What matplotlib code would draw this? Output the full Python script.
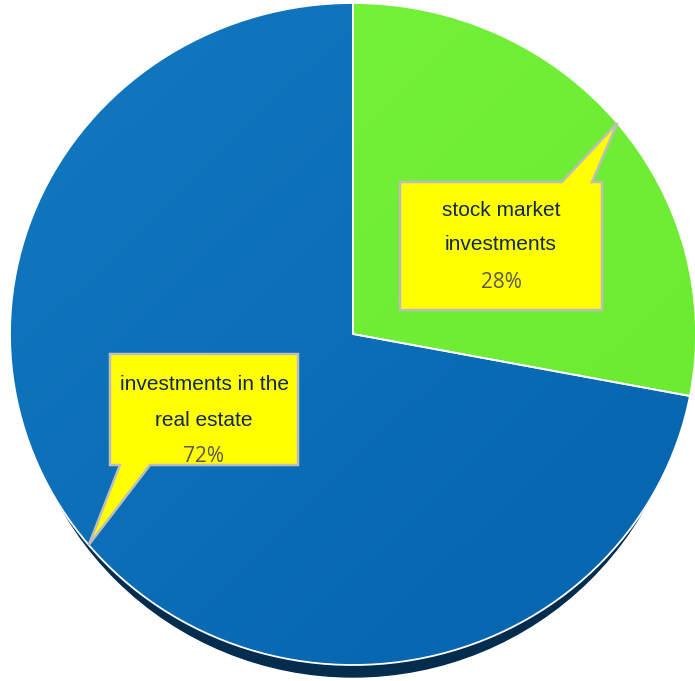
import numpy as np
import matplotlib.pyplot as plt
from matplotlib.patches import Ellipse, Polygon
from matplotlib.colors import LinearSegmentedColormap

# Portfolio split
categories = ['stock market\ninvestments', 'investments in the\nreal estate']
shares = [28, 72]
pct_labels = ['28%', '72%']

W, H = 695, 681
# pie centre and radii in pixels (the disc is slightly squashed vertically)
cx, cy = 353, 334
rx, ry = 343, 331

fig = plt.figure(figsize=(W / 100, H / 100), dpi=100)
ax = fig.add_axes([0, 0, 1, 1])

wedges, _ = ax.pie(shares, startangle=90, counterclock=False,
                   colors=['#72f036', '#0b6fb8'],
                   wedgeprops=dict(edgecolor='white', linewidth=1.3))

# dark rim under the disc
ax.add_patch(Ellipse((0, -12 / ry), 2 * 0.975, 2.0, color='#032c4e', zorder=0))

# soft diagonal shading inside each slice
gx, gy = np.meshgrid(np.linspace(-1, 1, 200), np.linspace(-1, 1, 200))
grad = (gx - gy + 2) / 4
shades = [('#77f33b', '#69e92f'), ('#1379c0', '#0463ad')]
for w, (c0, c1) in zip(wedges, shades):
    cmap = LinearSegmentedColormap.from_list('shade', [c0, c1])
    im = ax.imshow(grad, extent=(-1.02, 1.02, -1.02, 1.02), origin='lower',
                   cmap=cmap, interpolation='bilinear', zorder=2)
    im.set_clip_path(w)
    w.set_facecolor('none')
    w.set_zorder(3)

ax.set_aspect('auto')
ax.set_xlim(-cx / rx, (W - cx) / rx)
ax.set_ylim(-(H - cy) / ry, cy / ry)
ax.axis('off')

# overlay in pixel coordinates for the callouts
ov = fig.add_axes([0, 0, 1, 1])
ov.set_xlim(0, W)
ov.set_ylim(H, 0)
ov.axis('off')
ov.patch.set_alpha(0)


def tip_of(w):
    mid = np.deg2rad((w.theta1 + w.theta2) / 2)
    return cx + rx * np.cos(mid), cy - ry * np.sin(mid)


# box: left, top, right, bottom; pointer leaves from the top or bottom edge
boxes = [
    dict(box=(400, 182, 602, 310), side='top', base=(562, 592),
         lines_y=(211, 245, 282)),
    dict(box=(110, 354, 298, 465), side='bottom', base=(150, 120),
         lines_y=(385, 420, 456)),
]

for w, cat, pct, b in zip(wedges, categories, pct_labels, boxes):
    l, t, r, btm = b['box']
    b0, b1 = b['base']
    tx, ty = tip_of(w)
    if b['side'] == 'top':
        pts = [(l, t), (b0, t), (tx, ty), (b1, t), (r, t), (r, btm), (l, btm)]
    else:
        pts = [(l, t), (r, t), (r, btm), (b0, btm), (tx, ty), (b1, btm), (l, btm)]
    ov.add_patch(Polygon(pts, closed=True, facecolor='#ffff00',
                         edgecolor='#bdbdbd', linewidth=1.8, zorder=5,
                         joinstyle='miter'))
    xc = (l + r) / 2
    for txt, yy in zip(cat.split('\n'), b['lines_y'][:2]):
        ov.text(xc, yy, txt, ha='center', va='center', fontsize=15,
                family='Liberation Sans', color='#13275c', zorder=6)
    ov.text(xc, b['lines_y'][2], pct, ha='center', va='center', fontsize=15,
            family='Open Sans', color='#595959', zorder=6)

fig.savefig('out.png', dpi=100)
